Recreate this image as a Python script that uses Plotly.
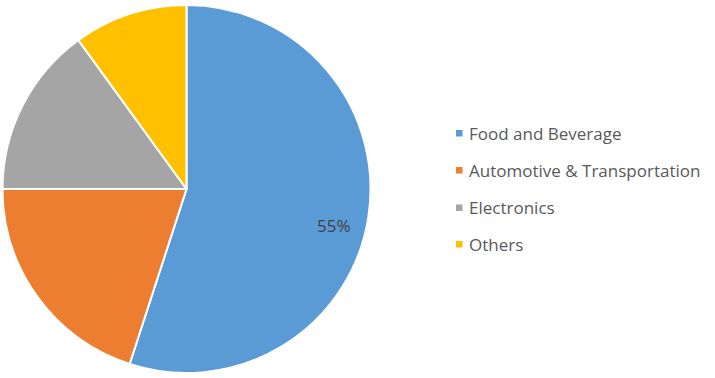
import plotly.graph_objects as go

labels = ["Food and Beverage", "Automotive & Transportation", "Electronics", "Others"]
values = [55, 20, 15, 10]
colors = ["#5B9BD5", "#ED7D31", "#A5A5A5", "#FFC000"]

W, H = 715, 378

fig = go.Figure()
fig.add_trace(go.Pie(
    labels=labels,
    values=values,
    textinfo="none",
    sort=False,
    direction="clockwise",
    rotation=0,
    marker=dict(colors=colors, line=dict(color="white", width=2)),
    domain=dict(x=[2 / W, 371 / W], y=[5 / H, 373 / H]),
    showlegend=False,
    hoverinfo="label+percent",
))

# Data label for the largest slice
total = sum(values)
fig.add_annotation(x=334 / W, y=1 - 225 / H, xref="paper", yref="paper",
                   text=f"{round(100 * values[0] / total)}%", showarrow=False,
                   xanchor="center", yanchor="middle",
                   font=dict(family="Open Sans", size=17, color="#404040"))

# Legend built from the same label/color arrays
legend_x_marker = 459 / W
legend_x_text = 467 / W
row_y = [133, 170, 207.5, 244]
for i, (lab, col) in enumerate(zip(labels, colors)):
    yc = 1 - row_y[i] / H
    fig.add_shape(type="rect", xref="paper", yref="paper",
                  x0=legend_x_marker - 3 / W, x1=legend_x_marker + 3.5 / W,
                  y0=yc - 3.5 / H, y1=yc + 3 / H,
                  fillcolor=col, line=dict(width=0))
    fig.add_annotation(x=legend_x_text, y=yc, xref="paper", yref="paper",
                       text=lab, showarrow=False, xanchor="left", yanchor="middle",
                       font=dict(family="Open Sans", size=17, color="#595959"))

fig.update_layout(
    width=W, height=H,
    margin=dict(l=0, r=0, t=0, b=0),
    paper_bgcolor="white",
    plot_bgcolor="white",
)

fig.write_html("out.html", config={"displayModeBar": False},
               post_script="document.body.style.margin='0';")
